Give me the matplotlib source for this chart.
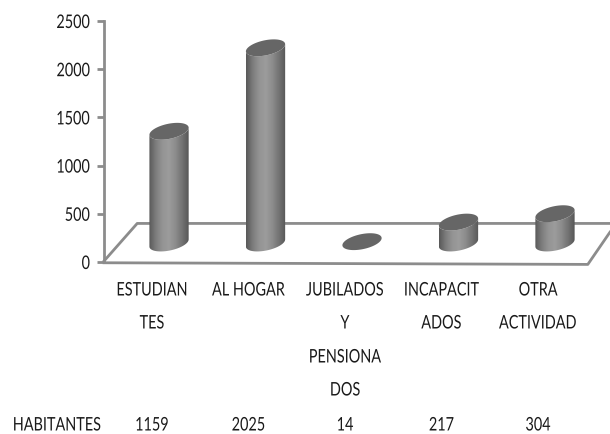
import numpy as np
import matplotlib
matplotlib.use('Agg')
import matplotlib.pyplot as plt
from matplotlib.path import Path
from matplotlib.patches import PathPatch
from matplotlib.colors import LinearSegmentedColormap
from matplotlib.patheffects import AbstractPathEffect
from matplotlib.transforms import Affine2D

# data
labels = ['ESTUDIAN\nTES', 'AL HOGAR', 'JUBILADOS\nY\nPENSIONA\nDOS', 'INCAPACIT\nADOS', 'OTRA\nACTIVIDAD']
values = [1159, 2025, 14, 217, 304]
yticks = [0, 500, 1000, 1500, 2000, 2500]
row_name = 'HABITANTES'

plt.rcParams['font.family'] = ['Lato', 'DejaVu Sans']
text_color = '#1a1a1a'
axis_color = '#8c8c8c'
font_size = 13.5


# the reference font is condensed, so squeeze the glyphs sideways
class Squeeze(AbstractPathEffect):
    def __init__(self, factor=0.77, side='center'):
        super().__init__()
        self.factor = factor
        self.side = side

    def draw_path(self, renderer, gc, tpath, affine, rgbFace=None):
        box = tpath.transformed(affine).get_extents()
        x0 = box.x1 if self.side == 'right' else (box.x0 + box.x1) / 2
        squeeze = Affine2D().translate(-x0, 0).scale(self.factor, 1).translate(x0, 0)
        renderer.draw_path(gc, tpath, affine + squeeze, rgbFace)


fig = plt.figure(figsize=(6.1, 4.34), dpi=100)
ax = fig.add_axes([104 / 610, 1 - 262 / 434, 506 / 610, 241 / 434])

# sizes in pixels turned into data units
px_x = 1 / 96.5
px_y = 2500 / 241
base = 197  # floor height of the bar foot
half_w = 20
half_h = 7.5
tilt = np.radians(12)
t0 = np.arctan2(-half_h * np.sin(tilt), half_w * np.cos(tilt))


def ellipse(cx, cy, t):
    ex = half_w * np.cos(t) * np.cos(tilt) - half_h * np.sin(t) * np.sin(tilt)
    ey = half_w * np.cos(t) * np.sin(tilt) + half_h * np.sin(t) * np.cos(tilt)
    return cx + ex * px_x, cy + ey * px_y


# floor
ax.plot([-0.674, -0.33, 4.57], [10, 400, 400], color=axis_color, lw=2, clip_on=False, zorder=1)
ax.plot([-0.674, 4.34, 4.57], [-8, -25, 310], color=axis_color, lw=2, clip_on=False, zorder=1)

cmap = LinearSegmentedColormap.from_list('cyl', ['#585858', '#7c7c7c', '#949494', '#9c9c9c', '#8c8c8c', '#727272', '#565656'])
gradient = np.linspace(0, 1, 256).reshape(1, -1)

for i, v in enumerate(values):
    top = base + v
    # body
    t = np.linspace(t0 + np.pi, t0 + 2 * np.pi, 40)
    xl, yl = ellipse(i, base, t)
    xu, yu = ellipse(i, top, t[::-1])
    verts = np.c_[np.r_[xl, xu], np.r_[yl, yu]]
    if v > 50:
        body = PathPatch(Path(np.r_[verts, verts[:1]], closed=True), fc='none', ec='none')
        ax.add_patch(body)
        im = ax.imshow(gradient, cmap=cmap, aspect='auto', zorder=2,
                       extent=[xl.min(), xl.max(), base - 200, top + 200])
        im.set_clip_path(body)
    # cap
    xc, yc = ellipse(i, top, np.linspace(0, 2 * np.pi, 80))
    ax.fill(xc, yc, color='#666666', lw=0, zorder=3)

ax.set_xlim(-0.674, 4.57)
ax.set_ylim(0, 2500)

for s in ['top', 'right', 'bottom']:
    ax.spines[s].set_visible(False)
ax.spines['left'].set_color(axis_color)
ax.spines['left'].set_linewidth(2)
ax.patch.set_alpha(0)

ax.set_yticks(yticks)
ax.tick_params(axis='y', length=5, width=2, color=axis_color, labelsize=font_size,
               labelcolor=text_color, pad=5)
ax.set_xticks([])
for tl in ax.get_yticklabels():
    tl.set_path_effects([Squeeze(0.77, 'right')])

# category labels and value row, one text per line, set left of the bars as in the reference
label_shift = -17 * 0.72
row_px = [28, 61, 95, 128]
for i, lab in enumerate(labels):
    for j, part in enumerate(lab.split('\n')):
        ax.annotate(part, (i, 0), xytext=(label_shift, -row_px[j] * 0.72),
                    textcoords='offset points', ha='center', va='center',
                    fontsize=font_size, color=text_color, annotation_clip=False,
                    path_effects=[Squeeze()])
    ax.annotate(str(values[i]), (i, 0), xytext=(label_shift, -163 * 0.72), textcoords='offset points',
                ha='center', va='center', fontsize=font_size, color=text_color,
                annotation_clip=False, path_effects=[Squeeze()])
fig.text(57 / 610, 1 - 425 / 434, row_name, ha='center', va='center', fontsize=font_size,
         color=text_color, path_effects=[Squeeze()])

fig.savefig('out.png', dpi=100, facecolor='white')
